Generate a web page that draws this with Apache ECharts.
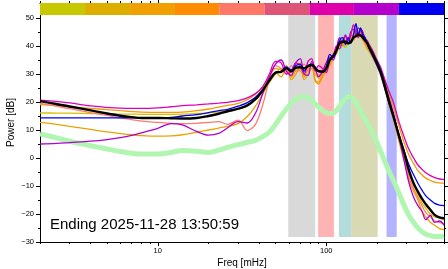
<!DOCTYPE html>
<html><head><meta charset="utf-8">
<script src="https://cdn.jsdelivr.net/npm/echarts@6/dist/echarts.min.js"></script>
<style>html,body{margin:0;padding:0;background:#fff}#c{width:448px;height:269px}</style>
</head><body><div id="c"></div>
<script>
const FREQ = [2, 2.5, 3, 4, 5, 6, 7, 8, 10, 12, 14, 17, 20, 23, 26, 30, 34, 38, 42, 46, 50, 54, 58, 62, 66, 70, 74, 78, 82, 86, 90, 95, 100, 105, 110, 115, 120, 125, 130, 135, 140, 145, 150, 155, 160, 165, 170, 175, 180, 190, 200, 210, 220, 235, 250, 270, 290, 310, 330, 350, 370, 390, 415, 440, 470, 500];

const GREEN = [8.6, 7.2, 6, 4.4, 3.2, 2.3, 1.7, 1.4, 1.4, 2, 2.7, 2.4, 2, 2.8, 3.8, 4.8, 5.6, 6.3, 7.6, 9.3, 12, 15, 17.5, 19.5, 21, 21.8, 22, 21.5, 20.5, 19.3, 18.2, 17, 16.2, 15.9, 16, 17, 18.5, 20, 21.2, 21.9, 21.8, 21, 19.8, 18.3, 16.8, 15.3, 14, 12.5, 11, 8.5, 5.5, 2.5, -0.5, -4.5, -8, -12.5, -17, -20.5, -23, -25, -26.3, -27.2, -27.7, -28, -28, -27.8];
const YELLOW = [16.1, 16.05, 16, 15.9, 15.8, 15.7, 15.7, 15.6, 15.6, 15.6, 15.7, 15.9, 16.1, 16.5, 16.9, 17.5, 18.5, 21, 24, 27, 30, 32, 31, 30.5, 32, 31, 30, 31.5, 32, 30, 28.5, 29, 31.5, 34, 36.5, 37, 40, 41, 39.5, 41.5, 42, 43, 44, 43.5, 45, 43, 41, 39.5, 38.5, 36, 33, 30, 26, 20, 14.5, 7, 0, -6, -10, -13, -16, -18, -20, -21, -21.5, -22.2];
const GOLD = [12.7, 12, 11.3, 10.2, 9.3, 8.7, 8.3, 8, 7.8, 7.9, 8.3, 9.2, 10, 10.7, 11.3, 12.3, 14.8, 18.5, 23, 27, 30.5, 29, 32.5, 28, 30, 32.5, 28, 30, 33, 27.5, 26.5, 29, 31, 33, 36, 38, 40.5, 40, 42, 40.5, 43.5, 42, 45, 43, 44, 42.5, 40.5, 39, 38, 35.5, 33, 29.5, 25.5, 19.5, 14, 6, -1, -8, -12, -15, -19, -21, -23, -24, -25.2, -25.6];
const ORANGE = [19.1, 18.7, 18.3, 17.7, 17.3, 16.9, 16.6, 16.4, 16.3, 16.3, 16.4, 16.9, 17.5, 18.2, 18.8, 19.5, 20.8, 22.8, 25.5, 29, 32, 31.5, 33, 29, 31.5, 34, 29, 32, 34, 28, 27, 30, 32, 35, 37, 39, 42, 40, 43, 42, 45, 43, 46, 44, 45, 43, 41, 40.5, 39.5, 37.5, 35, 32, 28, 22.5, 18.5, 11.5, 5.5, 1, -2, -4.5, -6, -7.2, -8, -8.6, -8.9, -9];
const SALMON = [19.5, 18.5, 17.6, 16.2, 15.2, 14.3, 13.7, 13.2, 12.7, 12.4, 12.3, 12.4, 12.7, 13, 12, 13.5, 9.8, 12, 19, 28, 33, 32, 30, 33, 31, 31.5, 33.5, 31, 32, 31.5, 29.5, 30, 33, 35.5, 37, 39.5, 41, 42, 41, 42.5, 44, 42.5, 44.5, 45, 44, 42, 41.5, 40, 39, 36.5, 33.5, 30.5, 26.5, 21, 15.5, 7.5, 0.5, -7, -11, -14, -17, -19.5, -21, -22.5, -23, -23.5];
const MAGENTA = [20.7, 20.2, 19.7, 18.6, 18.1, 17.8, 17.7, 17.7, 17.9, 18.3, 18.7, 19, 19.3, 19.6, 19.9, 20.5, 21.5, 23, 25.5, 30, 34.5, 34, 30, 31, 34, 33, 30, 34.5, 35.5, 31, 33, 32, 30.5, 35, 36, 40, 39, 42, 43.5, 41, 44, 47.5, 45, 43, 46, 45, 42.5, 42, 40.5, 38, 35, 32.5, 29, 24, 20, 13, 7.5, 3, 0, -2.5, -4, -5.3, -6.3, -7, -7.5, -7.7];
const PURPLE = [5, 5.2, 5.5, 6, 6.6, 7.3, 8.1, 9, 10.6, 12.3, 11.8, 9.5, 8.2, 8.8, 10.8, 13, 12.5, 16, 23, 29, 33.5, 35, 31, 29.5, 34, 35.5, 30, 29.5, 34.5, 32, 29, 31, 34, 36, 35, 39, 43, 41, 44, 42, 45, 46, 44, 46.5, 45.5, 44, 42.5, 41, 40, 37, 34, 31, 27, 21.5, 16, 7.5, -1, -9, -14, -17, -19, -22, -20.5, -23, -22.5, -24];
const BLUE = [14.3, 14.3, 14.3, 14.3, 14.3, 14.3, 14.3, 14.3, 14.3, 14.5, 15, 15.5, 16.2, 16.9, 17.4, 18.5, 19.8, 21.7, 24.5, 27.5, 30.5, 31, 32.5, 31.5, 33, 33.5, 31, 33, 33.5, 32.5, 31, 31, 32.5, 37, 36, 38, 42, 43, 40.5, 43, 41, 44, 48, 44, 46.5, 44, 43, 41, 39, 36, 33, 30, 26, 20, 15.5, 8.5, 2.5, -2.5, -6, -9, -11.5, -13.5, -15, -16.2, -16.8, -17];
const BLACK = [20.3, 19.3, 18.4, 17, 15.9, 15.1, 14.6, 14.3, 14.3, 14.2, 14.1, 14.3, 15, 15.8, 16.7, 17.6, 18.8, 21, 24.2, 27.8, 30.5, 30.8, 32, 31, 32.3, 32.4, 32, 32.8, 33.2, 32, 31, 30.8, 32, 35, 36.5, 38.5, 41, 41.5, 41.5, 41, 41.5, 43, 43.5, 44, 43.8, 43, 42, 41, 39.5, 36.8, 34, 31, 27, 20.5, 15, 8, 2, -4.5, -9, -12, -14.5, -16.5, -18.5, -20.3, -21.2, -21.5];

const TOP_BAND_EDGES = [2, 3.7, 6.85, 12.65, 23.2, 43, 79.5, 146, 270, 500];
const TOP_BAND_COLORS = ['#c8c800', '#ddae00', '#f0a000', '#ff8c00', '#ff7766', '#dd5577', '#dd00aa', '#b400cc', '#0000ee'];
const BANDS = [[59.5, 86], [89.5, 111], [119, 140.5], [140.5, 202], [228, 262]];
const BAND_COLORS = ['#d9d9d9', '#ffb3b3', '#b3dcdc', '#d9d9b3', '#b3b3ff'];

const X_MAJOR = [10, 100];
const X_MINOR = [2, 3, 4, 5, 6, 7, 8, 9, 20, 30, 40, 50, 60, 70, 80, 90, 200, 300, 400, 500];
const Y_MAJOR = [-30, -20, -10, 0, 10, 20, 30, 40, 50];
const Y_MINOR = [-25, -15, -5, 5, 15, 25, 35, 45];
const TITLE = 'Ending 2025-11-28 13:50:59';

const Y_MIN = -30, Y_MAX = 55.36, BAND_TOP = 51.07, BAND_BOTTOM = -28.2;
const FONT = 'Liberation Sans, Arial, Helvetica, sans-serif';

const chart = echarts.init(document.getElementById('c'), null, {renderer: 'canvas'});

function pairs(vals) { return FREQ.map((f, i) => [f, vals[i]]); }
function lineSeries(vals, color, width, z) {
  return {type: 'line', data: pairs(vals), showSymbol: false, smooth: 0.35, z: z,
    lineStyle: {color: color, width: width}, itemStyle: {color: color}, silent: true};
}
const black = '#000';
function xAx(pos, ticks, len, showLine, labels) {
  return {type: 'log', logBase: 10, min: 2, max: 500, position: pos,
    axisLine: {show: showLine, onZero: false, lineStyle: {color: black, width: 1}},
    axisTick: {show: true, customValues: ticks, length: len, lineStyle: {color: black, width: 1}},
    axisLabel: labels ? {show: true, customValues: ticks, fontSize: 7.5, color: black, fontFamily: FONT, margin: 5} : {show: false},
    splitLine: {show: false}, minorTick: {show: false}};
}
function yAx(pos, ticks, len, showLine, labels) {
  return {type: 'value', min: Y_MIN, max: Y_MAX, position: pos,
    axisLine: {show: showLine, onZero: false, lineStyle: {color: black, width: 1}},
    axisTick: {show: true, customValues: ticks, length: len, lineStyle: {color: black, width: 1}},
    axisLabel: labels ? {show: true, customValues: ticks, fontSize: 7.5, color: black, fontFamily: FONT, margin: 6,
      formatter: v => v < 0 ? '\u2212' + (-v) : String(v)} : {show: false},
    splitLine: {show: false}};
}

const series = [
  {type: 'line', data: [], z: 1, silent: true,
    markArea: {silent: true, z: 1, data: BANDS.map((b, i) => [
      {xAxis: b[0], yAxis: BAND_BOTTOM, itemStyle: {color: BAND_COLORS[i], opacity: 1}},
      {xAxis: b[1], yAxis: BAND_TOP}])}},
  {type: 'line', data: [], z: 1, silent: true,
    markArea: {silent: true, z: 1, data: TOP_BAND_COLORS.map((c, i) => [
      {xAxis: TOP_BAND_EDGES[i], yAxis: BAND_TOP, itemStyle: {color: c, opacity: 1}},
      {xAxis: TOP_BAND_EDGES[i + 1], yAxis: Y_MAX}])}},
  lineSeries(GREEN, '#b0f5b0', 5, 2),
  lineSeries(YELLOW, '#d8c000', 1.3, 3),
  lineSeries(GOLD, '#eba200', 1.3, 3),
  lineSeries(ORANGE, '#f59a00', 1.3, 3),
  lineSeries(SALMON, '#ff7b70', 1.3, 3),
  lineSeries(PURPLE, '#b000d0', 1.3, 3),
  lineSeries(MAGENTA, '#dd00bb', 1.3, 3),
  lineSeries(BLUE, '#0000ee', 1.3, 3),
  lineSeries(BLACK, '#000000', 2.4, 4)
];

chart.setOption({
  animation: false,
  backgroundColor: '#fff',
  grid: {left: 40, right: 4, top: 3, bottom: 27, containLabel: false},
  xAxis: [xAx('bottom', X_MAJOR, 4, true, true), xAx('top', X_MAJOR, 4, true, false),
          xAx('bottom', X_MINOR, 2, false, false), xAx('top', X_MINOR, 2, false, false)],
  yAxis: [yAx('left', Y_MAJOR, 4, true, true), yAx('right', Y_MAJOR, 4, true, false),
          yAx('left', Y_MINOR, 2, false, false), yAx('right', Y_MINOR, 2, false, false)],
  series: series,
  graphic: [
    {type: 'text', x: 50, y: 232, z: 100, style: {text: TITLE, font: '15px ' + FONT, fill: '#000', textAlign: 'left', textVerticalAlign: 'bottom', verticalAlign: 'bottom'}},
    {type: 'text', x: 11, y: 122.5, rotation: Math.PI / 2, z: 100, style: {text: 'Power [dB]', font: '10px ' + FONT, fill: '#000', textAlign: 'center', align: 'center', textVerticalAlign: 'middle', verticalAlign: 'middle'}},
    {type: 'text', x: 242, y: 263, z: 100, style: {text: 'Freq [mHz]', font: '10px ' + FONT, fill: '#000', textAlign: 'center', align: 'center', textVerticalAlign: 'middle', verticalAlign: 'middle'}}
  ]
});
</script></body></html>
